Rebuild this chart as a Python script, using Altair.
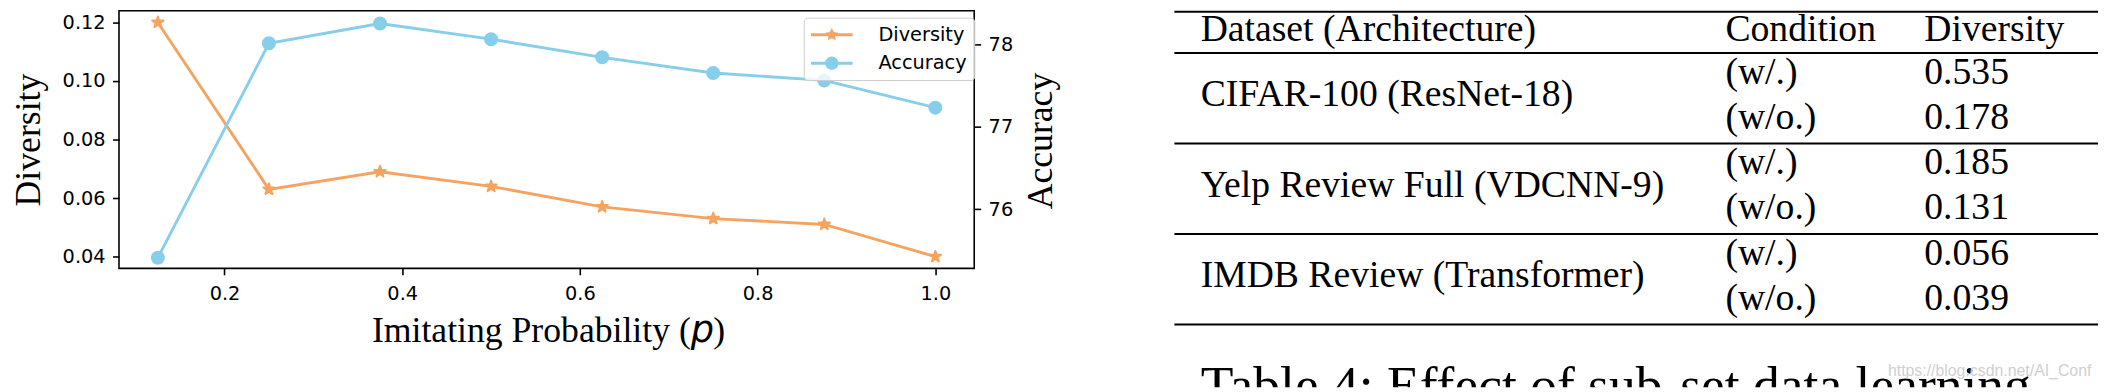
import altair as alt
import pandas as pd

# ---------------- chart data ----------------
p_values = [0.125, 0.25, 0.375, 0.5, 0.625, 0.75, 0.875, 1.0]
diversity = [0.120, 0.063, 0.069, 0.064, 0.057, 0.053, 0.051, 0.040]
accuracy = [75.41, 78.01, 78.25, 78.06, 77.84, 77.65, 77.56, 77.23]
series = ["Diversity", "Accuracy"]
series_colors = ["#f4a460", "#87ceeb"]

x_ticks = [0.2, 0.4, 0.6, 0.8, 1.0]
div_ticks = [0.04, 0.06, 0.08, 0.10, 0.12]
acc_ticks = [76, 77, 78]
x_title_parts = ["Imitating Probability (", "p", ")"]

# ---------------- table data ----------------
table_header = ["Dataset (Architecture)", "Condition", "Diversity"]
datasets = ["CIFAR-100 (ResNet-18)", "Yelp Review Full (VDCNN-9)", "IMDB Review (Transformer)"]
conditions = ["(w/.)", "(w/o.)"]
table_diversity = [0.535, 0.178, 0.185, 0.131, 0.056, 0.039]
caption = "Table 4: Effect of sub-set data learning"
watermark = "https://blog.csdn.net/AI_Conf"


# ---------------- marker geometry helpers ----------------
def star_path(R, inner=0.381966):
    import math
    pts = []
    for k in range(10):
        r = R if k % 2 == 0 else R * inner
        a = math.radians(-90 + 36 * k)
        pts.append((r * math.cos(a), r * math.sin(a)))
    return "M" + "L".join(f"{x:.4f},{y:.4f}" for x, y in pts) + "Z"


def circle_path(r):
    return f"M{r},0A{r},{r},0,1,1,{-r},0A{r},{r},0,1,1,{r},0Z"


LINE_PART = "M-2.1,-0.145H2.1V0.145H-2.1Z"
STAR = star_path(1.0)
LEG_STAR = LINE_PART + star_path(0.68, inner=0.5)
LEG_CIRC = LINE_PART + circle_path(0.67)

df = pd.DataFrame({"p": p_values, "Diversity": diversity, "Accuracy": accuracy})

W, H = 863, 260
xenc = alt.X(
    "p:Q",
    scale=alt.Scale(domain=[0.08125, 1.04375], nice=False, zero=False),
    axis=alt.Axis(values=x_ticks, format=".1f", title=None, labelPadding=9.5),
)
div_y = alt.Y(
    "Diversity:Q",
    scale=alt.Scale(domain=[0.036, 0.124], nice=False, zero=False),
    axis=alt.Axis(values=div_ticks, format=".2f", title="Diversity", orient="left",
                  titleX=-91, titleY=130, titleAngle=270, titleAlign="center",
                  titleBaseline="middle"),
)
acc_y = alt.Y(
    "Accuracy:Q",
    scale=alt.Scale(domain=[75.282, 78.405], nice=False, zero=False),
    axis=alt.Axis(values=acc_ticks, format="d", title="Accuracy", orient="right",
                  titleX=67, titleY=131, titleAngle=270, titleAlign="center",
                  titleBaseline="middle"),
)

base = alt.Chart(df)
div_layer = alt.layer(
    base.mark_line(color=series_colors[0], strokeWidth=2.9).encode(x=xenc, y=div_y),
    base.mark_point(filled=True, shape=STAR, size=144, color=series_colors[0],
                    stroke=series_colors[0], strokeWidth=2, strokeJoin="round",
                    opacity=1).encode(x=xenc, y=div_y),
)
acc_layer = alt.layer(
    base.mark_line(color=series_colors[1], strokeWidth=2.9).encode(x=xenc, y=acc_y),
    base.mark_point(filled=True, shape="circle", size=200, color=series_colors[1],
                    opacity=1).encode(x=xenc, y=acc_y),
)

LEG = alt.Legend(
    title=None, orient="none", legendX=691, legendY=7,
    labelFont="DejaVu Sans", labelFontSize=19.5, labelColor="black",
    labelOffset=37, symbolOffset=11, padding=7.3, rowPadding=8.7,
    strokeColor="#cccccc", fillColor="rgba(255,255,255,0.8)", cornerRadius=4,
    symbolStrokeColor="transparent", symbolStrokeWidth=0, symbolSize=400, zindex=0,
)
legend_layer = (
    alt.Chart(pd.DataFrame({"series": series}))
    .transform_filter("false")
    .mark_point(filled=True, opacity=1, size=400)
    .encode(
        x=alt.value(0), y=alt.value(0),
        fill=alt.Fill("series:N", scale=alt.Scale(domain=series, range=series_colors), legend=LEG),
        shape=alt.Shape("series:N", scale=alt.Scale(domain=series, range=[LEG_STAR, LEG_CIRC]), legend=LEG),
    )
)

xt1 = alt.Chart(pd.DataFrame({"t": [x_title_parts[0]]})).mark_text(
    align="right", baseline="alphabetic", font="Liberation Serif", fontSize=36, color="black"
).encode(text="t:N", x=alt.value(577), y=alt.value(334.7))
xt2 = alt.Chart(pd.DataFrame({"t": [x_title_parts[1]]})).mark_text(
    align="left", baseline="alphabetic", font="DejaVu Sans", fontStyle="italic", fontSize=37, color="black"
).encode(text="t:N", x=alt.value(577), y=alt.value(334.7))
xt3 = alt.Chart(pd.DataFrame({"t": [x_title_parts[2]]})).mark_text(
    align="left", baseline="alphabetic", font="Liberation Serif", fontSize=36, color="black"
).encode(text="t:N", x=alt.value(599.6), y=alt.value(334.7))

left = (
    alt.layer(div_layer, acc_layer, legend_layer, xt1, xt2, xt3)
    .resolve_scale(y="independent")
    .properties(width=W, height=H)
)

# ---------------- table ----------------
rows = []
for j, h in enumerate(table_header):
    rows.append({"text": h, "col": j, "row": -0.955})
for g, d in enumerate(datasets):
    rows.append({"text": d, "col": 0, "row": 2 * g + 0.5})
    for k, c in enumerate(conditions):
        r = 2 * g + k
        rows.append({"text": c, "col": 1, "row": r})
        rows.append({"text": f"{table_diversity[r]:.3f}", "col": 2, "row": r})
table_df = pd.DataFrame(rows)

group_bounds = [0, 2, 4, 6]
rule_rows = [-1.59] + [b - 0.68 for b in group_bounds]
rules_df = pd.DataFrame({"row": rule_rows})

TW, TH = 932, 380
tx = alt.Scale(domain=[0, 1, 2], range=[26.5, 556.0, 756.7], nice=False, zero=False)
ty = alt.Scale(domain=[0, 5], range=[73.7, 302.0], nice=False, zero=False)

t_rules = alt.Chart(rules_df).mark_rule(color="black", strokeWidth=2).encode(
    y=alt.Y("row:Q", scale=ty, axis=None), x=alt.value(0), x2=alt.value(TW)
)
t_text = alt.Chart(table_df).mark_text(
    align="left", baseline="alphabetic", font="Liberation Serif", fontSize=38, color="black"
).encode(
    x=alt.X("col:Q", scale=tx, axis=None), y=alt.Y("row:Q", scale=ty, axis=None), text="text:N"
)
t_cap = alt.Chart(pd.DataFrame({"text": [caption], "col": [0], "row": [7.05]})).mark_text(
    align="left", baseline="alphabetic", font="Liberation Serif", fontSize=54, color="black", clip=True
).encode(
    x=alt.X("col:Q", scale=tx, axis=None), y=alt.Y("row:Q", scale=ty, axis=None), text="text:N"
)
t_wm = alt.Chart(pd.DataFrame({"text": [watermark]})).mark_text(
    align="left", baseline="alphabetic", font="Liberation Sans", fontSize=16, color="#cfcfcf"
).encode(text="text:N", x=alt.value(720), y=alt.value(368.7))

table = alt.layer(t_rules, t_text, t_cap, t_wm).properties(
    width=TW, height=TH, view=alt.ViewBackground(stroke="transparent")
)

chart = (
    alt.hconcat(left, table, spacing=114)
    .properties(padding={"left": 2, "top": 0, "right": 0, "bottom": 0})
    .configure_view(stroke="black", strokeWidth=1.6)
    .configure_axis(
        labelFont="DejaVu Sans", labelFontSize=19.5, labelColor="black",
        tickColor="black", tickWidth=1.6, tickSize=6.5, labelPadding=7.5,
        domain=False, grid=False, titleFont="Liberation Serif", titleFontSize=36,
        titleFontWeight="normal", titleColor="black",
    )
)

chart.save("out.html", embed_options={"renderer": "svg", "actions": False})
